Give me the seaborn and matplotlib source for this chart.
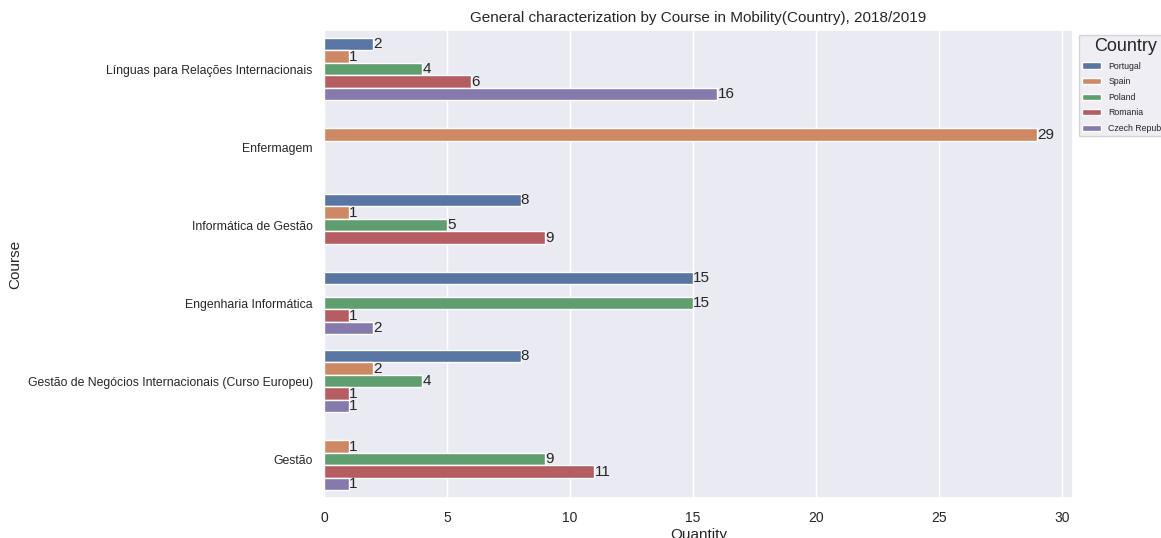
import pandas as pd
import seaborn as sns
import matplotlib.pyplot as plt

courses = ['Línguas para Relações Internacionais', 'Enfermagem', 'Informática de Gestão',
           'Engenharia Informática', 'Gestão de Negócios Internacionais (Curso Europeu)', 'Gestão']
countries = ['Portugal', 'Spain', 'Poland', 'Romania', 'Czech Republic']

# quantity per course, per country (None = no students)
portugal = [2, None, 8, 15, 8, None]
spain = [1, 29, 1, None, 2, 1]
poland = [4, None, 5, 15, 4, 9]
romania = [6, None, 9, 1, 1, 11]
czech = [16, None, None, 2, 1, 1]

rows = []
for country, vals in zip(countries, [portugal, spain, poland, romania, czech]):
    for course, v in zip(courses, vals):
        if v is not None:
            rows.append({'Course': course, 'Country': country, 'Quantity': v})
df = pd.DataFrame(rows)

sns.set_theme(style='darkgrid')
plt.rcParams['font.family'] = ['Liberation Sans', 'DejaVu Sans']

fig = plt.figure(figsize=(11.61, 5.38), dpi=100)
ax = fig.add_axes([0.279, 0.074, 0.645, 0.87])
sns.barplot(data=df, y='Course', x='Quantity', hue='Country', order=courses,
            hue_order=countries, orient='h', ax=ax)

for c in ax.containers:
    ax.bar_label(c, fontsize=11, padding=0)

ax.set_title('General characterization by Course in Mobility(Country), 2018/2019', fontsize=11)
ax.set_xlabel('Quantity', fontsize=11, labelpad=2)
ax.set_ylabel('Course', fontsize=11, labelpad=4)
ax.tick_params(axis='y', labelsize=8.8, pad=2)
ax.tick_params(axis='x', labelsize=10)
ax.legend(title='Country', loc='upper left', bbox_to_anchor=(1.002, 1.0),
          fontsize=6.3, title_fontsize=13, handlelength=2.2, labelspacing=0.75)

fig.savefig('out.png', dpi=100)
